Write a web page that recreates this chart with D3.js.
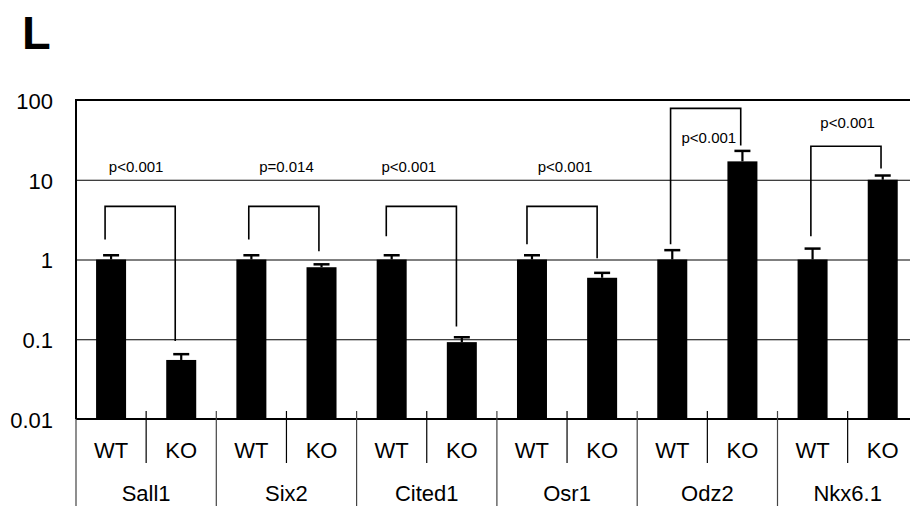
<!DOCTYPE html>
<html>
<head>
<meta charset="utf-8">
<script src="https://cdn.jsdelivr.net/npm/d3@7"></script>
<style>
  html, body { margin: 0; padding: 0; background: #fff; }
  svg { display: block; font-family: "Liberation Sans", Arial, sans-serif; }
</style>
</head>
<body>
<svg id="chart" width="910" height="506"></svg>
<script>
// ---------- data ----------
const genes = ["Sall1", "Six2", "Cited1", "Osr1", "Odz2", "Nkx6.1"];
const groups = ["WT", "KO"];
const wtValues = [1.0, 1.0, 1.0, 1.0, 1.0, 1.0];
const koValues = [0.055, 0.80, 0.092, 0.59, 17.0, 10.0];
const wtErrTop = [1.13, 1.13, 1.13, 1.13, 1.31, 1.37];
const koErrTop = [0.065, 0.87, 0.106, 0.68, 23.0, 11.3];
const yTicks = [0.01, 0.1, 1, 10, 100];
const yTickLabels = ["0.01", "0.1", "1", "10", "100"];
const pLabels = ["p<0.001", "p=0.014", "p<0.001", "p<0.001", "p<0.001", "p<0.001"];
// bracket geometry in data units: top of bracket, end of WT leg, end of KO leg
const bracketTop = [4.64, 4.64, 4.64, 4.64, 78.5, 26.3];
const bracketWtEnd = [1.78, 1.78, 1.95, 1.55, 1.55, 1.95];
const bracketKoEnd = [0.095, 1.27, 0.144, 1.04, 26.8, 13.8];
const pLabelY = [14.6, 14.6, 14.6, 14.6, 34.1, 52.5];
const chartTitle = "L";

// ---------- layout ----------
const svg = d3.select("#chart");
const plotLeft = 76, slotW = 70.15;
const plotTop = 100, plotBottom = 419;
const slots = [];
genes.forEach(g => groups.forEach(s => slots.push(g + "|" + s)));

const x = d3.scaleBand().domain(slots).range([plotLeft, plotLeft + slotW * slots.length]).paddingInner(0).paddingOuter(0);
const y = d3.scaleLog().domain([0.01, 100]).range([plotBottom, plotTop]);
const barW = 30;
const cx = key => x(key) + x.bandwidth() / 2;

// label and bracket horizontal nudges (pixels)
const legShift = [-6, -2.6, -5.4, -5, -1.7, -1.7];
const labelShift = [-10, 0, -18, -2, 1.5, 0];

// title
svg.append("text").attr("x", 22).attr("y", 48.5)
  .attr("font-size", 47).attr("font-weight", "bold").attr("fill", "#000").text(chartTitle);

// gridlines
svg.append("g").selectAll("line").data(yTicks.slice(1, 4)).join("line")
  .attr("x1", plotLeft).attr("x2", 910)
  .attr("y1", d => y(d) + 0.5).attr("y2", d => y(d) + 0.5)
  .attr("stroke", "#000").attr("stroke-width", 1);

// y axis labels
const yAxis = d3.axisLeft(y).tickValues(yTicks).tickFormat((d, i) => yTickLabels[i]).tickSize(0).tickPadding(23);
const gy = svg.append("g").attr("transform", `translate(${plotLeft},0)`).call(yAxis);
gy.select(".domain").remove();
gy.selectAll("text").attr("font-size", 22).attr("fill", "#000")
  .attr("font-family", "'Liberation Sans', Arial, sans-serif").attr("dy", "0.38em");

// bars
const barData = [];
genes.forEach((g, i) => {
  barData.push({ key: g + "|WT", v: wtValues[i], e: wtErrTop[i] });
  barData.push({ key: g + "|KO", v: koValues[i], e: koErrTop[i] });
});
const gb = svg.append("g");
gb.selectAll("rect").data(barData).join("rect")
  .attr("x", d => cx(d.key) - barW / 2)
  .attr("width", barW)
  .attr("y", d => y(d.v))
  .attr("height", d => y(0.01) - y(d.v))
  .attr("fill", "#000");
// error bars
gb.selectAll("line.err").data(barData).join("line").attr("class", "err")
  .attr("x1", d => cx(d.key)).attr("x2", d => cx(d.key))
  .attr("y1", d => y(d.v)).attr("y2", d => y(d.e))
  .attr("stroke", "#000").attr("stroke-width", 2.2);
gb.selectAll("line.cap").data(barData).join("line").attr("class", "cap")
  .attr("x1", d => cx(d.key) - 8).attr("x2", d => cx(d.key) + 8)
  .attr("y1", d => y(d.e)).attr("y2", d => y(d.e))
  .attr("stroke", "#000").attr("stroke-width", 2.5);

// brackets
const gBr = svg.append("g").attr("fill", "none").attr("stroke", "#000").attr("stroke-width", 1.6);
genes.forEach((g, i) => {
  const x1 = cx(g + "|WT") + legShift[i];
  const x2 = cx(g + "|KO") + legShift[i];
  gBr.append("path").attr("d",
    `M${x1},${y(bracketWtEnd[i])} L${x1},${y(bracketTop[i])} L${x2},${y(bracketTop[i])} L${x2},${y(bracketKoEnd[i])}`);
  svg.append("text")
    .attr("x", (cx(g + "|WT") + cx(g + "|KO")) / 2 + labelShift[i])
    .attr("y", y(pLabelY[i])).attr("dy", "0.35em")
    .attr("text-anchor", "middle").attr("font-size", 15).attr("fill", "#000")
    .text(pLabels[i]);
});

// frame: top, left, bottom
svg.append("line").attr("x1", plotLeft).attr("x2", 910).attr("y1", plotTop).attr("y2", plotTop)
  .attr("stroke", "#000").attr("stroke-width", 2);
svg.append("line").attr("x1", plotLeft).attr("x2", plotLeft).attr("y1", plotTop - 1).attr("y2", plotBottom)
  .attr("stroke", "#000").attr("stroke-width", 2);
svg.append("line").attr("x1", plotLeft).attr("x2", 910).attr("y1", plotBottom).attr("y2", plotBottom)
  .attr("stroke", "#000").attr("stroke-width", 2.2);

// bottom table
svg.append("line").attr("x1", plotLeft).attr("x2", plotLeft).attr("y1", plotBottom).attr("y2", 506)
  .attr("stroke", "#444").attr("stroke-width", 1.2);
genes.forEach((g, i) => {
  const xs = x(g + "|KO");
  svg.append("line").attr("x1", xs).attr("x2", xs).attr("y1", 411).attr("y2", 463)
    .attr("stroke", "#000").attr("stroke-width", 1.2);
  const xe = x(g + "|KO") + x.bandwidth();
  svg.append("line").attr("x1", xe).attr("x2", xe).attr("y1", 411).attr("y2", 506)
    .attr("stroke", "#444").attr("stroke-width", 1.2);
});
svg.append("g").selectAll("text").data(slots).join("text")
  .attr("x", d => cx(d)).attr("y", 457.5)
  .attr("text-anchor", "middle").attr("font-size", 22).attr("fill", "#000")
  .text(d => d.split("|")[1]);
svg.append("g").selectAll("text").data(genes).join("text")
  .attr("x", g => x(g + "|KO")).attr("y", 501)
  .attr("text-anchor", "middle").attr("font-size", 22).attr("fill", "#000")
  .text(g => g);
</script>
</body>
</html>
